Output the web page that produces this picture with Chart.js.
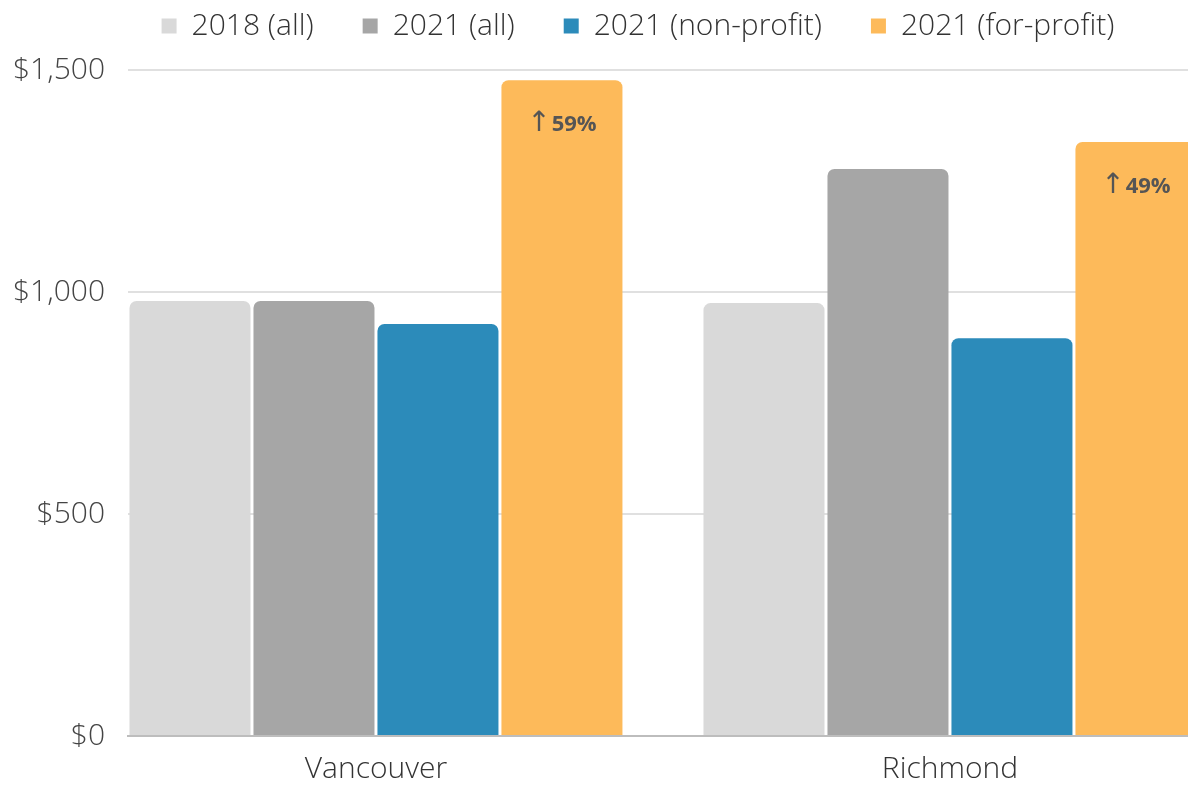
<!DOCTYPE html>
<html>
<head>
<meta charset="utf-8">
<script src="https://cdn.jsdelivr.net/npm/chart.js@4"></script>
<style>
  html, body { margin: 0; padding: 0; overflow: hidden; background: #fff; }
  .box { width: 1276px; height: 787px; }
</style>
</head>
<body>
<div class="box"><canvas id="grafico"></canvas></div>
<script>
const cities = ['Vancouver', 'Richmond'];
const seriesNames = ['2018 (all)', '2021 (all)', '2021 (non-profit)', '2021 (for-profit)'];
const rent2018All = [980, 975];
const rent2021All = [980, 1277];
const rent2021NonProfit = [928, 896];
const rent2021ForProfit = [1477, 1338];
const forProfitChange = ['59%', '49%'];
const yTicks = [0, 500, 1000, 1500];

const colors = ['#d9d9d9', '#a6a6a6', '#2c8bba', '#fdba5a'];

Chart.defaults.font.family = "'Open Sans', sans-serif";
Chart.defaults.font.weight = '300';

function toPoints(values) {
  return values.map((v, i) => ({ x: i, y: v }));
}

// extra space under the legend
const legendGap = {
  id: 'legendGap',
  beforeInit(chart) {
    const fit = chart.legend.fit;
    chart.legend.fit = function () {
      fit.bind(chart.legend)();
      this.height += 19;
    };
  }
};

// "↑ 59%" inside the for-profit bars
const barNotes = {
  id: 'barNotes',
  afterDatasetsDraw(chart) {
    const ctx = chart.ctx;
    const meta = chart.getDatasetMeta(3);
    meta.data.forEach((bar, i) => {
      const y = bar.y + 44;
      ctx.save();
      ctx.fillStyle = '#555';
      ctx.textBaseline = 'middle';
      ctx.textAlign = 'left';
      ctx.font = '28px "DejaVu Sans"';
      const aw = ctx.measureText('↑').width;
      ctx.font = 'bold 22px "Open Sans"';
      const tw = ctx.measureText(forProfitChange[i]).width;
      const start = bar.x - (aw + 1 + tw) / 2;
      ctx.font = '28px "DejaVu Sans"';
      ctx.fillText('↑', start, y);
      ctx.font = 'bold 22px "Open Sans"';
      ctx.fillText(forProfitChange[i], start + aw + 1, y + 1);
      ctx.restore();
    });
  }
};

const series = [rent2018All, rent2021All, rent2021NonProfit, rent2021ForProfit];

new Chart(document.getElementById('grafico'), {
  type: 'bar',
  data: {
    datasets: series.map((values, i) => ({
      label: seriesNames[i],
      data: toPoints(values),
      backgroundColor: colors[i],
      borderRadius: 7,
      borderSkipped: 'start',
      categoryPercentage: 0.864,
      barPercentage: 0.976
    }))
  },
  options: {
    responsive: true,
    maintainAspectRatio: false,
    animation: false,
    layout: { padding: { top: -38, left: 0, right: 0, bottom: 0 } },
    plugins: {
      tooltip: { enabled: false },
      legend: {
        position: 'top',
        labels: {
          boxWidth: 15,
          boxHeight: 15,
          padding: 49,
          color: '#333',
          font: { size: 30 }
        }
      }
    },
    scales: {
      x: {
        type: 'linear',
        min: -0.432,
        max: 1.568,
        offset: false,
        grid: { display: false, offset: false, drawTicks: false },
        border: { display: true, color: '#bdbdbd', width: 2 },
        afterBuildTicks: scale => {
          scale.ticks = cities.map((c, i) => ({ value: i }));
        },
        afterFit: scale => { scale.height = 51; },
        ticks: {
          padding: 15,
          color: '#333',
          font: { size: 30 },
          callback: value => cities[value]
        }
      },
      y: {
        min: 0,
        max: 1500,
        grid: { color: '#e0e0e0', lineWidth: 2, drawTicks: false },
        border: { display: false },
        afterBuildTicks: scale => {
          scale.ticks = yTicks.map(v => ({ value: v }));
        },
        afterFit: scale => { scale.width = 128; },
        ticks: {
          padding: 23,
          color: '#444',
          font: { size: 30 },
          callback: value => '$' + value.toLocaleString('en-US')
        }
      }
    }
  },
  plugins: [legendGap, barNotes]
});
</script>
</body>
</html>
